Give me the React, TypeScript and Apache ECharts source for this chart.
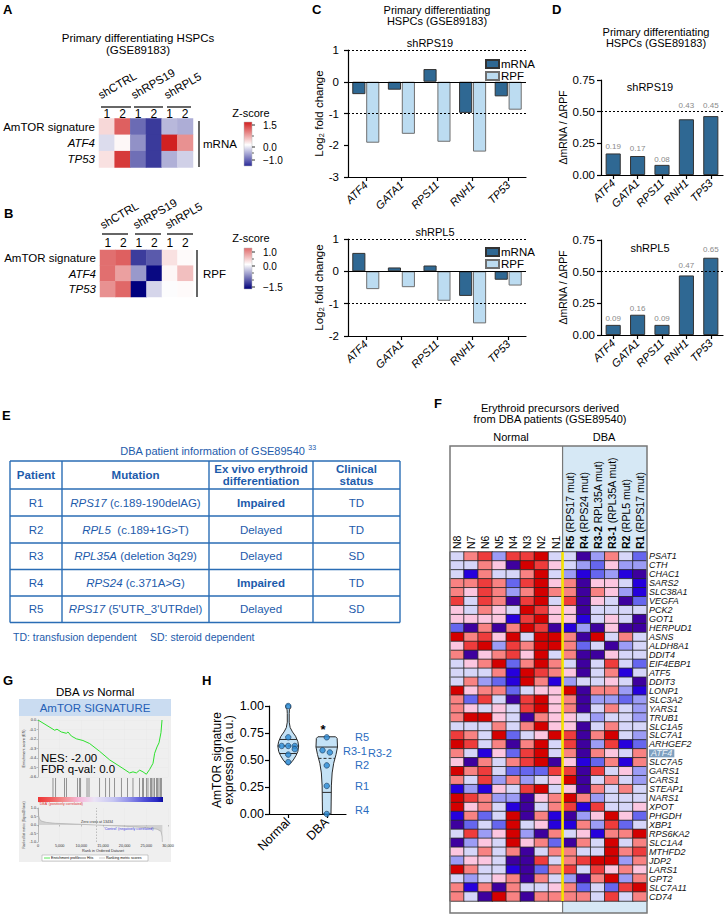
import React, { useEffect, useRef } from "react";
import * as echarts from "echarts";

const FONT = '"Liberation Sans", Arial, Helvetica, sans-serif';

/* ---------------- Panel A / B ---------------- */
const abColumns = ["shCTRL 1", "shCTRL 2", "shRPS19 1", "shRPS19 2", "shRPL5 1", "shRPL5 2"];
const abReplicates = ["1", "2", "1", "2", "1", "2"];
const abGroups = ["shCTRL", "shRPS19", "shRPL5"];
const abRows = ["AmTOR signature", "ATF4", "TP53"];
const abRowItalic = [false, true, true];
const aZscores = [
  [0.26, 1.05, -0.98, -1.3, -0.47, -0.54],
  [-0.23, 0.05, -0.73, -1.3, 1.47, 0.73],
  [0.2, 1.3, -0.95, -1.3, -0.52, -0.31],
];
const bZscores = [
  [0.95, 1.05, -1.15, -0.97, 0.2, 0.03],
  [0.95, 0.63, -0.6, -1.45, 0.06, 0.42],
  [0.73, 1.0, -1.5, -0.25, -0.02, 0.03],
];
const aScaleTicks = ["1.5", "0.0", "\u22121.0"];
const bScaleTicks = ["1.0", "0.0", "\u22121.5"];

/* ---------------- Panel C ---------------- */
const cGenes = ["ATF4", "GATA1", "RPS11", "RNH1", "TP53"];
const cRps19Mrna = [-0.39, -0.25, 0.4, -0.98, -0.46];
const cRps19Rpf = [-1.92, -1.64, -1.89, -2.2, -0.88];
const cRpl5Mrna = [0.57, 0.12, 0.18, -0.76, -0.26];
const cRpl5Rpf = [-0.55, -0.49, -0.91, -1.61, -0.44];

/* ---------------- Panel D ---------------- */
const dRps19Ratio = [0.17, 0.15, 0.08, 0.44, 0.465];
const dRps19Labels = ["0.19", "0.17", "0.08", "0.43", "0.45"];
const dRpl5Ratio = [0.08, 0.16, 0.08, 0.47, 0.61];
const dRpl5Labels = ["0.09", "0.16", "0.09", "0.47", "0.65"];
// label gaps above bars (styling)
const dRps19LabelGap = [3, 4, 1, 10, 7];
const dRpl5LabelGap = [2, 2, 2, 6, 4];

/* ---------------- Panel E ---------------- */
const eHeaders = ["Patient", "Mutation", "Ex vivo erythroid\ndifferentiation", "Clinical\nstatus"];
const ePatients = ["R1", "R2", "R3", "R4", "R5"];
const eGenes = ["RPS17", "RPL5", "RPL35A", "RPS24", "RPS17"];
const eMutations = [" (c.189-190delAG)", "  (c.189+1G>T)", " (deletion 3q29)", " (c.371A>G)", " (5'UTR_3'UTRdel)"];
const eDifferentiation = ["Impaired", "Delayed", "Delayed", "Impaired", "Delayed"];
const eStatus = ["TD", "TD", "SD", "TD", "SD"];

/* ---------------- Panel F ---------------- */
const fSamples = ["N8", "N7", "N6", "N5", "N4", "N3", "N2", "N1", "R5", "R4", "R3-2", "R3-1", "R2", "R1"];
const fSampleNotes = ["", "", "", "", "", "", "", "", "(RPS17 mut)", "(RPS24 mut)", "RPL35A mut)", "(RPL35A mut)", "(RPL5 mut)", "(RPS17 mut)"];
const fGenes = ["PSAT1", "CTH", "CHAC1", "SARS2", "SLC38A1", "VEGFA", "PCK2", "GOT1", "HERPUD1", "ASNS", "ALDH8A1", "DDIT4", "EIF4EBP1", "ATF5", "DDIT3", "LONP1", "SLC3A2", "YARS1", "TRUB1", "SLC1A5", "SLC7A1", "ARHGEF2", "ATF4", "SLC7A5", "GARS1", "CARS1", "STEAP1", "NARS1", "XPOT", "PHGDH", "XBP1", "RPS6KA2", "SLC1A4", "MTHFD2", "JDP2", "LARS1", "GPT2", "SLC7A11", "CD74"];
const fHighlightGene = "ATF4";
const fZ = [
  [-0.5, 1, 1.5, -1, 1.5, 1.5, 2, -0.5, -0.5, -2, -1, 1, -0.5, -1.5],
  [-0.5, -0.5, 1, 0.5, -2, 2, 1.5, 0.5, -0.5, -1, -1.5, 0.5, -1, -1],
  [-0.5, -1.8, 1, -0.5, -0.5, 1, 2, -0.5, -1, -1.8, -1.5, -1, -1.8, -2],
  [1, 1, 1.5, 1, -1.5, 1.5, 2, 0.5, 1, -2, 0.5, 0.5, -0.5, -1.8],
  [1, 0.5, 1.5, 1, -1, 1, 2, 1, 1, -2, 1, 0.5, -1, -1.8],
  [1.5, -0.5, 1.5, 1, -2, 1.5, 2, -0.5, 1.5, -2, 0.5, -0.5, -2, -1.5],
  [0.5, -0.5, 1, 0.5, -0.5, 2, 1.5, 0.5, 0.5, -2, -0.5, -0.5, -0.5, -0.5],
  [0.5, 0.5, 0.5, 0.5, -1.8, 1.5, 2, 0.5, 0.5, -1.8, -0.5, 0.5, -0.5, -2],
  [-1.5, -2, 1, -2, 1, 2, 1.5, -2, -1.8, -1, -2, 0.5, -2, -2],
  [2, 1, 1.5, 0.5, 2, -0.5, 2, 2, 1, -2, 2, -0.5, 1, -0.5],
  [0.5, 1.5, 2, -1, 1.5, 1, 2, 2, 1, -1.5, -0.5, -2, -1, -0.5],
  [1, -2, 0.5, 1, 1.5, 0.5, 2, -0.5, 1, -2, -2, 0.5, -0.5, -0.5],
  [-0.5, 0.5, 1, 2, -1.5, 1, 2, 1, -0.5, -2, -0.5, 1.5, -0.5, -1.5],
  [-0.5, -0.5, -0.5, 1, -1.8, 2, 1.5, 1, 0.5, -2, -0.5, 1, -1.8, -0.5],
  [-0.5, 1, -1, -1.5, -1.8, 2, 1, -1.8, -1, -0.5, -0.5, 0.5, -0.5, -2],
  [2, 0.5, 1, 1, -1.5, -0.5, 0.5, 0.5, 2, -2, 1, 1, -1, -1.8],
  [1, -1.5, 1.5, -0.5, -2, 1.5, 2, 0.5, 1, -2, -1, -1, -1.5, -1],
  [1, 0.5, -0.5, 0.5, -0.5, 1.5, 2, 0.5, 1, -2, -0.5, 1, -0.5, -1],
  [1, 2, 2, 0.5, -0.5, -2, 1, 0.5, 0.5, -0.5, -1, -0.5, -0.5, -1],
  [-0.5, -0.5, -0.5, 1, -0.5, 1, 2, 0.5, 0.5, -2, -0.5, 1, -0.5, -0.5],
  [1.5, 1, -0.5, 2, -1.5, -0.5, 0.5, 2, 1.5, -2, 1, 2, -0.5, -1],
  [2, 1.5, -0.5, 1, -2, 1, 2, -0.5, 1.5, -2, -1, 1.5, -1.8, -1.5],
  [1, -0.5, -1.8, 0.5, -1.5, 1.5, 2, -0.5, 1, -2, 1, 0.5, -0.5, 1],
  [0.5, -2, 1, -0.5, 1, 1.5, 2, -2, 0.5, -1.8, -1.5, 1, -1.8, 1],
  [2, 1, 1.5, -0.5, -1.5, -1.5, -1.5, 1.5, 1.5, -2, 1.5, -0.5, 0.5, -1],
  [1, -0.5, 1.5, -1, 1, -1, -0.5, 0.5, 2, -2, -0.5, 1, -0.5, -1],
  [-1.8, -1, -1.8, 0.5, -0.5, 1.5, 2, -0.5, 0.5, -2, 1, -0.5, 1, -0.5],
  [2, 1.5, 1, -1, -1, -2, 0.5, 1, 2, 1, -1, -0.5, -0.5, -0.5],
  [2, 0.5, 1, -0.5, -1.8, -2, -0.5, 1, 1.5, -1.8, 1.5, -0.5, -0.5, 0.5],
  [-1.8, 1, -1.5, -0.5, 2, -2, 1, -1.8, -2, -1, 0.5, 2, 0.5, -1.5],
  [-2, -1.5, -0.5, -1.5, 2, -0.5, 0.5, -1.8, -1.8, 1, -1, 1.5, -1.5, -0.5],
  [-0.5, 1.5, -1, 0.5, 2, -1, -2, 1, -0.5, 0.5, -1.8, 1, 1, 2],
  [-2, -1, 0.5, -0.5, 2, 0.5, 1, -1.5, -2, 1, -0.5, 2, -0.5, 1],
  [0.5, -0.5, 1, -0.5, 1, -2, -0.5, 1, 1, -0.5, -0.5, 2, 1, 1.5],
  [-1, 0.5, 0.5, -0.5, -2, -2, 1.5, -0.5, 1, 1.5, 2, 2, -1, 1],
  [2, 1, -0.5, -0.5, -1.8, -2, -1.5, 1, 1.5, -0.5, 1.5, 0.5, 1, 0.5],
  [-0.5, -1, -0.5, 0.5, 1, -2, 1, -0.5, -1, -2, 1, 2, -1, 1],
  [1, -1.8, 1, -2, 1, -0.5, -0.5, 0.5, 1, -1.5, -0.5, -1.5, 1.5, 2],
  [1, -0.5, -2, 2, 1, -2, 1, 1, 1, 1, -0.5, 1.5, -0.5, 1],
];

/* ---------------- Panel G ---------------- */
const gEsRank = [0, 3460, 3850, 4380, 5380, 6540, 6920, 7700, 8850, 10380, 11920, 14230, 16540, 19600, 21150, 21920, 22700, 23460, 24230, 25000, 25770, 26540, 26920, 27460, 27920, 28380, 28620];
const gEsScore = [0, -0.097, -0.108, -0.097, -0.126, -0.14, -0.126, -0.169, -0.198, -0.216, -0.248, -0.33, -0.42, -0.51, -0.557, -0.546, -0.557, -0.528, -0.546, -0.571, -0.52, -0.456, -0.35, -0.284, -0.24, -0.133, 0];
const gHits = [3460, 4080, 6150, 6540, 9080, 9620, 9850, 11310, 11770, 14230, 15620, 16540, 17690, 19230, 20620, 21920, 23460, 24080, 24380, 25000, 25380, 25920, 26230, 26540, 26920, 27310, 27620, 27920, 28230, 28460];
const gMetricRank = [0, 150, 400, 900, 2000, 4000, 7000, 10000, 13434, 17000, 21000, 25000, 27500, 28400, 28650, 28700];
const gMetricValue = [1.0, 0.55, 0.32, 0.22, 0.15, 0.1, 0.07, 0.04, 0, -0.04, -0.09, -0.16, -0.25, -0.38, -0.7, -1.0];
const gZeroCross = 13434;
const gNes = "NES: -2.00";
const gFdr = "FDR q-val: 0.0";

/* ---------------- Panel H ---------------- */
const hGroups = ["Normal", "DBA"];
const hCenters = [0.5, 1.5];
const hNormalPoints = [[0.5, 1.0], [0.5, 0.71], [0.33, 0.63], [0.5, 0.63], [0.67, 0.63], [0.67, 0.6], [0.5, 0.55], [0.5, 0.48]];
const hDbaPoints = [[1.5, 0.71], [1.39, 0.59], [1.58, 0.57], [1.5, 0.45], [1.5, 0.26], [1.5, 0.0]];
const hDbaLabels = ["R5", "R3-1", "R3-2", "R2", "R1", "R4"];
// violin outlines: [value, half width (band units)]
const hNormalOutline = [[1.015, 0], [1.005, 0.06], [0.985, 0.065], [0.965, 0.03], [0.93, 0.025], [0.85, 0.025], [0.8, 0.05], [0.76, 0.11], [0.72, 0.19], [0.67, 0.25], [0.63, 0.27], [0.58, 0.25], [0.54, 0.2], [0.5, 0.13], [0.47, 0.06], [0.455, 0]];
const hDbaOutline = [[0.715, 0.23], [0.7, 0.27], [0.62, 0.28], [0.55, 0.24], [0.47, 0.18], [0.38, 0.14], [0.26, 0.12], [0.12, 0.115], [0.0, 0.11]];
const hNormalLines = [[0.69, false], [0.63, true], [0.56, false]];
const hDbaLines = [[0.62, false], [0.515, true], [0.2, false]];

/* ---------------- helpers ---------------- */
function toCells(m: number[][]) {
  const out: number[][] = [];
  m.forEach((row, r) => row.forEach((v, c) => out.push([c, r, v])));
  return out;
}
function widthAt(outline: number[][], q: number) {
  for (let i = 0; i < outline.length - 1; i++) {
    const a = outline[i], b = outline[i + 1];
    if (q <= a[0] && q >= b[0]) {
      const t = (a[0] - q) / (a[0] - b[0] || 1);
      return a[1] + (b[1] - a[1]) * t;
    }
  }
  return outline[outline.length - 1][1];
}

const axLine = { show: true, lineStyle: { color: "#000", width: 1.2 } };
const axTick = { show: true, length: 4, lineStyle: { color: "#000", width: 1.2 } };
const lbl = (size: number, extra: any = {}) => ({ fontFamily: FONT, fontSize: size, color: "#000", ...extra });

const F_GRID = { left: 450, top: 552, width: 197, height: 349 };

function buildGraphics() {
  const g: any[] = [];
  const text = (x: number, y: number, t: string, o: any = {}) => {
    const align = o.align || "center";
    const valign = o.valign || "middle";
    g.push({
      type: "text", x, y, rotation: o.rotation || 0, silent: true, z: o.z ?? 10,
      style: {
        text: t, fontFamily: FONT, fontSize: o.size || 11, fontWeight: o.weight || "normal",
        fontStyle: o.italic ? "italic" : "normal", fill: o.color || "#000",
        align, verticalAlign: valign, textAlign: align, textVerticalAlign: valign,
        rich: o.rich, lineHeight: o.lineHeight,
      },
    });
  };
  const line = (x1: number, y1: number, x2: number, y2: number, o: any = {}) =>
    g.push({ type: "line", silent: true, z: o.z ?? 10, shape: { x1, y1, x2, y2 }, style: { stroke: o.color || "#000", lineWidth: o.width || 1, lineDash: o.dash } });
  const rect = (x: number, y: number, w: number, h: number, o: any = {}) =>
    g.push({ type: "rect", silent: true, z: o.z ?? 0, shape: { x, y, width: w, height: h }, style: { fill: o.fill || "none", stroke: o.stroke || "none", lineWidth: o.width || 1 } });

  // panel letters
  const letters: [string, number, number][] = [["A", 3, 3], ["B", 4, 207], ["C", 312, 3], ["D", 552, 3], ["E", 2, 409], ["F", 434, 397], ["G", 3, 674], ["H", 202, 674]];
  letters.forEach(([t, x, y]) => text(x, y, t, { size: 13, weight: "bold", align: "left", valign: "top" }));

  // A titles
  text(138, 38, "Primary differentiating HSPCs", { size: 11.5 });
  text(138, 50, "(GSE89183)", { size: 11.5 });
  const rot = (30 * Math.PI) / 180;
  const aGroupX = [102, 135, 168];
  const aLines = [[101, 131], [134, 163], [167, 191]];
  abGroups.forEach((s, i) => text(aGroupX[i], 101, s, { size: 11.5, align: "left", valign: "bottom", rotation: rot }));
  aLines.forEach(([a, b]) => line(a, 107, b, 107, { width: 1.2 }));
  line(199, 121, 199, 167, { width: 1.2 });
  text(203, 144, "mRNA", { size: 11.5, align: "left" });
  // A colour scale
  text(251, 113, "Z-score", { size: 11 });
  g.push({ type: "rect", silent: true, z: 5, shape: { x: 244, y: 122, width: 8, height: 44 }, style: { stroke: "#bbb", lineWidth: 0.5, fill: { type: "linear", x: 0, y: 0, x2: 0, y2: 1, colorStops: [{ offset: 0, color: "#d21f1f" }, { offset: 0.52, color: "#ffffff" }, { offset: 1, color: "#2a2a98" }] } } });
  [125, 147, 160].forEach((y, i) => { text(263, y, aScaleTicks[i], { size: 10, align: "left" }); line(252, y, 255, y, { width: 0.8 }); });
  [136, 153].forEach((y) => line(252, y, 254, y, { width: 0.6 }));

  // B
  const bGroupX = [104, 137, 169];
  const bLines = [[102, 128], [135, 161], [167, 193]];
  abGroups.forEach((s, i) => text(bGroupX[i], 231, s, { size: 11.5, align: "left", valign: "bottom", rotation: rot }));
  bLines.forEach(([a, b]) => line(a, 234, b, 234, { width: 1.2 }));
  line(197, 250, 197, 297, { width: 1.2 });
  text(203, 274, "RPF", { size: 11.5, align: "left" });
  text(251, 238, "Z-score", { size: 11 });
  g.push({ type: "rect", silent: true, z: 5, shape: { x: 244, y: 248, width: 8, height: 41 }, style: { stroke: "#bbb", lineWidth: 0.5, fill: { type: "linear", x: 0, y: 0, x2: 0, y2: 1, colorStops: [{ offset: 0, color: "#e06a6a" }, { offset: 0.4, color: "#ffffff" }, { offset: 1, color: "#00007a" }] } } });
  [252, 266, 287].forEach((y, i) => { text(263, y, bScaleTicks[i], { size: 10, align: "left" }); line(252, y, 255, y, { width: 0.8 }); });
  [259, 273, 280].forEach((y) => line(252, y, 254, y, { width: 0.6 }));

  // C titles
  text(437, 10, "Primary differentiating", { size: 11 });
  text(437, 21, "HSPCs (GSE89183)", { size: 11 });
  text(430, 43, "shRPS19", { size: 11 });
  text(435, 232, "shRPL5", { size: 11 });

  // D titles
  text(656, 32, "Primary differentiating", { size: 11 });
  text(656, 43, "HSPCs (GSE89183)", { size: 11 });
  text(650, 87, "shRPS19", { size: 11 });
  text(650, 248, "shRPL5", { size: 11 });

  // E table
  const blue = "#1d5bab";
  const tBlue = "#2a6db5";
  text(218, 451, "{t|DBA patient information of GSE89540 }{s|33}", { rich: { t: { fontSize: 11, fontFamily: FONT, fill: blue, color: blue }, s: { fontSize: 7, fontFamily: FONT, fill: blue, color: blue, padding: [0, 0, 7, 0] } } });
  const colX = [10, 62, 209, 313, 400];
  const rowY = [461, 489, 516, 543, 569.5, 596, 622.5];
  rowY.forEach((y) => line(colX[0], y, colX[4], y, { color: tBlue, width: 1.4 }));
  colX.forEach((x) => line(x, rowY[0], x, rowY[rowY.length - 1], { color: tBlue, width: 1.4 }));
  const colC = colX.slice(0, 4).map((x, i) => (x + colX[i + 1]) / 2);
  eHeaders.forEach((h, i) => text(colC[i], 475, h, { size: 11.5, weight: "bold", color: blue, lineHeight: 12.5 }));
  ePatients.forEach((p, r) => {
    const y = (rowY[r + 1] + rowY[r + 2]) / 2;
    text(colC[0], y, p, { size: 11.5, color: blue });
    text(colC[1], y, "{i|" + eGenes[r] + "}{n|" + eMutations[r] + "}", { size: 11.5, color: blue, rich: { i: { fontStyle: "italic", fontSize: 11.5, fontFamily: FONT, fill: blue, color: blue }, n: { fontSize: 11.5, fontFamily: FONT, fill: blue, color: blue } } });
    text(colC[2], y, eDifferentiation[r], { size: 11.5, color: blue, weight: eDifferentiation[r] === "Impaired" ? "bold" : "normal" });
    text(colC[3], y, eStatus[r], { size: 11.5, color: blue });
  });
  text(13, 637, "TD: transfusion dependent", { size: 10.5, color: blue, align: "left" });
  text(150, 637, "SD: steroid dependent", { size: 10.5, color: blue, align: "left" });

  // F
  text(550, 408, "Erythroid precursors derived", { size: 11 });
  text(550, 419, "from DBA patients (GSE89540)", { size: 11 });
  text(511, 437, "Normal", { size: 11 });
  text(604, 437, "DBA", { size: 11 });
  const { left: fLeft, top: fTop, width: fW, height: fH } = F_GRID;
  const cellW = fW / fSamples.length;
  const split = fLeft + cellW * 8;
  rect(split, 446, fLeft + fW - split, 467, { fill: "#d6e8f5", z: 0 });
  line(split, 446, split, 913, { color: "#777", width: 1.2, z: 1 });
  rect(fLeft, 446, fW, 467, { stroke: "#777", width: 1.5, z: 10 });
  line(split, fTop, split, fTop + fH, { color: "#f4e400", width: 2.6, z: 12 });
  // sample labels (read bottom-to-top, bold patient code)
  fSamples.forEach((s, i) => {
    const x = fLeft + cellW * (i + 0.5);
    const t = fSampleNotes[i] ? "{b|" + s + "} " + fSampleNotes[i] : s;
    text(x, fTop - 3, t, {
      size: 10.5, align: "left", valign: "middle", rotation: Math.PI / 2,
      rich: { b: { fontWeight: "bold", fontSize: 10.5, fontFamily: FONT, fill: "#000" } },
    });
  });

  // G
  text(95, 692, "{n|DBA }{i|vs}{n| Normal}", { rich: { n: { fontSize: 11.5, fontFamily: FONT, fill: "#000" }, i: { fontSize: 11.5, fontFamily: FONT, fontStyle: "italic", fill: "#000" } } });
  rect(19, 699, 152, 17, { fill: "#cadcf1", z: 0 });
  text(95, 708, "AmTOR SIGNATURE", { size: 11.5, color: "#2660b6" });
  rect(19, 716, 152, 146, { fill: "#efefef", z: 0 });
  text(41, 758, gNes, { size: 11.5, align: "left", z: 15 });
  text(41, 769, gFdr, { size: 11.5, align: "left", z: 15 });
  g.push({ type: "rect", silent: true, z: 5, shape: { x: 38, y: 797, width: 125, height: 5 }, style: { fill: { type: "linear", x: 0, y: 0, x2: 1, y2: 0, colorStops: [{ offset: 0, color: "#ee3535" }, { offset: 0.1, color: "#f05a5a" }, { offset: 0.2, color: "#f28a8a" }, { offset: 0.33, color: "#f6b8da" }, { offset: 0.45, color: "#ebe4f6" }, { offset: 0.6, color: "#c6c6f2" }, { offset: 0.72, color: "#9494ea" }, { offset: 0.85, color: "#5050d8" }, { offset: 0.95, color: "#2a2ac4" }, { offset: 1, color: "#0c0ca0" }] } } });
  text(39, 804, "'DBA' (positively correlated)", { size: 3.6, color: "#e03030", align: "left" });
  text(97, 822, "Zero cross at 13434", { size: 3.6, color: "#333" });
  text(104, 829, "'Control' (negatively correlated)", { size: 3.6, color: "#4040e0", align: "left" });
  rect(42, 855, 106, 6, { fill: "#fff", stroke: "#999", width: 0.5, z: 5 });
  line(44, 858, 50, 858, { color: "#2de02d", width: 0.8, z: 11 });
  text(51, 858, "Enrichment profile", { size: 3.6, align: "left" });
  line(80, 858, 86, 858, { color: "#555", width: 0.8, z: 11 });
  text(87, 858, "Hits", { size: 3.6, align: "left" });
  line(99, 858, 105, 858, { color: "#bbb", width: 0.8, z: 11 });
  text(106, 858, "Ranking metric scores", { size: 3.6, align: "left" });

  // H
  text(323, 729, "*", { size: 13, weight: "bold" });
  const hLabelPos: [number, number][] = [[355, 737], [343, 751], [368, 753], [355, 765], [355, 786], [355, 810]];
  hDbaLabels.forEach((t, i) => text(hLabelPos[i][0], hLabelPos[i][1], t, { size: 11, color: "#2a6cc0", align: "left" }));
  return g;
}

function buildOption() {
  const grids = [
    { left: 99, top: 118.5, width: 94, height: 49 }, // 0 A
    { left: 100, top: 250, width: 93, height: 47 }, // 1 B
    { left: 348, top: 50, width: 178, height: 127 }, // 2 C top
    { left: 348, top: 239, width: 178, height: 97 }, // 3 C bottom
    { left: 601, top: 80, width: 122, height: 95 }, // 4 D top
    { left: 601, top: 240, width: 122, height: 95 }, // 5 D bottom
    { ...F_GRID }, // 6 F
    { left: 38, top: 720, width: 130, height: 57, show: true, backgroundColor: "#fff", borderColor: "#bbb", borderWidth: 0.5 }, // 7 G ES
    { left: 38, top: 778, width: 130, height: 19, show: true, backgroundColor: "#fff", borderColor: "#bbb", borderWidth: 0.5 }, // 8 G hits
    { left: 38, top: 808, width: 130, height: 34, show: true, backgroundColor: "#fff", borderColor: "#bbb", borderWidth: 0.5 }, // 9 G metric
    { left: 269, top: 706, width: 77, height: 108 }, // 10 H
  ];

  const hmX = (gi: number) => ({
    type: "category", gridIndex: gi, data: abColumns, position: "top",
    axisLine: { show: false }, axisTick: { show: false }, splitLine: { show: false },
    axisLabel: lbl(12, { formatter: (_v: string, i: number) => abReplicates[i], margin: gi === 0 ? -1 : 1 }),
  });
  const hmY = (gi: number) => ({
    type: "category", gridIndex: gi, inverse: true,
    data: abRows.map((r, i) => (abRowItalic[i] ? { value: r, textStyle: { fontStyle: "italic" } } : r)),
    axisLine: { show: false }, axisTick: { show: false }, splitLine: { show: false },
    axisLabel: lbl(11.5, { margin: 4 }),
  });
  const geneX = (gi: number) => ({
    type: "category", gridIndex: gi, data: cGenes,
    axisLine: { ...axLine, onZero: false }, axisTick: { ...axTick, alignWithLabel: true },
    axisLabel: lbl(11, { rotate: 45, fontStyle: "italic", margin: 6, interval: 0 }),
  });
  const cY = (gi: number, min: number) => ({
    type: "value", gridIndex: gi, min, max: 1, interval: 1,
    axisLine: axLine, axisTick: axTick, splitLine: { show: false },
    axisLabel: lbl(11.5, { margin: 9 }),
    name: "Log\u2082 fold change", nameLocation: "middle", nameRotate: 90, nameGap: 21,
    nameTextStyle: lbl(11.5),
  });
  const dY = (gi: number) => ({
    type: "value", gridIndex: gi, min: 0, max: 0.75, interval: 0.25,
    axisLine: axLine, axisTick: axTick, splitLine: { show: false },
    axisLabel: lbl(11.5, { margin: 6, formatter: (v: number) => v.toFixed(2) }),
    name: "\u0394mRNA / \u0394RPF", nameLocation: "middle", nameRotate: 90, nameGap: 33,
    nameTextStyle: lbl(10.5),
  });

  const dotted = { color: "#000", width: 1, type: [2, 2] };
  const cMark = {
    silent: true, symbol: ["none", "none"], label: { show: false },
    lineStyle: dotted,
    data: [
      { yAxis: 1 },
      { yAxis: -1 },
      { yAxis: 0, lineStyle: { type: "solid", width: 1.2, color: "#000" } },
    ],
  };
  const mrnaStyle = { color: "#2f6893", borderColor: "#333", borderWidth: 1 };
  const rpfStyle = { color: "#bcdcf1", borderColor: "#6f6f6f", borderWidth: 1 };

  const tiny = (extra: any = {}) => ({ fontFamily: FONT, fontSize: 3.8, color: "#333", ...extra });
  const gX = (gi: number, showLabels: boolean) => ({
    type: "value", gridIndex: gi, min: 0, max: 30000, interval: 5000,
    axisLine: { show: false }, axisTick: { show: showLabels, length: 1.5, lineStyle: { color: "#888", width: 0.5 } },
    splitLine: { show: gi !== 8, lineStyle: { color: "#e8e8e8", width: 0.5 } },
    axisLabel: showLabels ? tiny({ margin: 2, formatter: (v: number) => v.toLocaleString("en-US") }) : { show: false },
    name: showLabels ? "Rank in Ordered Dataset" : "", nameLocation: "middle", nameGap: 7, nameTextStyle: tiny(),
  });
  const dBarData = (vals: number[], gaps: number[]) =>
    vals.map((v, i) => ({ value: v, label: { distance: gaps[i] } }));
  const dLabel = (labels: string[]) => ({
    show: true, position: "top", color: "#8a8a8a", fontSize: 8, fontFamily: FONT,
    formatter: (p: any) => labels[p.dataIndex],
  });

  const series: any[] = [
    { type: "heatmap", xAxisIndex: 0, yAxisIndex: 0, data: toCells(aZscores), emphasis: { disabled: true } },
    { type: "heatmap", xAxisIndex: 1, yAxisIndex: 1, data: toCells(bZscores), emphasis: { disabled: true } },
    { name: "mRNA", type: "bar", xAxisIndex: 2, yAxisIndex: 2, data: cRps19Mrna, itemStyle: mrnaStyle, barGap: "6%", barCategoryGap: "24%", markLine: cMark },
    { name: "RPF", type: "bar", xAxisIndex: 2, yAxisIndex: 2, data: cRps19Rpf, itemStyle: rpfStyle, barGap: "6%", barCategoryGap: "24%" },
    { name: "mRNA", type: "bar", xAxisIndex: 3, yAxisIndex: 3, data: cRpl5Mrna, itemStyle: mrnaStyle, barGap: "6%", barCategoryGap: "24%", markLine: cMark },
    { name: "RPF", type: "bar", xAxisIndex: 3, yAxisIndex: 3, data: cRpl5Rpf, itemStyle: rpfStyle, barGap: "6%", barCategoryGap: "24%" },
    {
      type: "bar", xAxisIndex: 4, yAxisIndex: 4, data: dBarData(dRps19Ratio, dRps19LabelGap), itemStyle: mrnaStyle, barCategoryGap: "38%",
      label: dLabel(dRps19Labels),
      markLine: { silent: true, symbol: ["none", "none"], label: { show: false }, lineStyle: dotted, data: [{ yAxis: 0.5 }] },
    },
    {
      type: "bar", xAxisIndex: 5, yAxisIndex: 5, data: dBarData(dRpl5Ratio, dRpl5LabelGap), itemStyle: mrnaStyle, barCategoryGap: "38%",
      label: dLabel(dRpl5Labels),
      markLine: { silent: true, symbol: ["none", "none"], label: { show: false }, lineStyle: dotted, data: [{ yAxis: 0.5 }] },
    },
    { type: "heatmap", xAxisIndex: 6, yAxisIndex: 6, data: toCells(fZ), itemStyle: { borderColor: "#262626", borderWidth: 0.8 }, emphasis: { disabled: true } },
    { type: "line", xAxisIndex: 7, yAxisIndex: 7, data: gEsRank.map((r, i) => [r, gEsScore[i]]), showSymbol: false, lineStyle: { color: "#2de02d", width: 1 } },
    { type: "scatter", xAxisIndex: 8, yAxisIndex: 8, data: gHits.map((r) => [r, 0.5]), symbol: "rect", symbolSize: [0.7, 19], itemStyle: { color: "#4a4a4a" } },
    {
      type: "line", xAxisIndex: 9, yAxisIndex: 9, data: gMetricRank.map((r, i) => [r, gMetricValue[i]]), showSymbol: false,
      lineStyle: { color: "#9a9a9a", width: 0.5 }, areaStyle: { color: "#c4c4c4", origin: 0 },
      markLine: { silent: true, symbol: ["none", "none"], label: { show: false }, lineStyle: { color: "#888", width: 0.5, type: [1.5, 1.5] }, data: [{ xAxis: gZeroCross }] },
    },
    {
      type: "custom", xAxisIndex: 11, yAxisIndex: 10, clip: false,
      data: hCenters.map((c) => [c, 0.5]),
      renderItem: (params: any, api: any) => {
        const idx = params.dataIndex;
        const outline = idx === 0 ? hNormalOutline : hDbaOutline;
        const lines: any[] = idx === 0 ? hNormalLines : hDbaLines;
        const cx = hCenters[idx];
        const right = outline.map(([v, w]) => api.coord([cx + w, v]));
        const left = outline.slice().reverse().map(([v, w]) => api.coord([cx - w, v]));
        const children: any[] = [
          { type: "polygon", shape: { points: right.concat(left) }, style: { fill: "#c4e2f6", stroke: "#2b2b2b", lineWidth: 1 } },
        ];
        lines.forEach(([q, dashed]: any) => {
          const w = widthAt(outline, q);
          const p1 = api.coord([cx - w, q]);
          const p2 = api.coord([cx + w, q]);
          children.push({ type: "line", shape: { x1: p1[0], y1: p1[1], x2: p2[0], y2: p2[1] }, style: { stroke: "#2b2b2b", lineWidth: 1, lineDash: dashed ? [3, 2] : undefined } });
        });
        return { type: "group", children };
      },
    },
    {
      type: "scatter", xAxisIndex: 11, yAxisIndex: 10, data: hNormalPoints.concat(hDbaPoints), symbolSize: 5.5, z: 5,
      itemStyle: { color: "#2b8bd6", borderColor: "#1d3c5c", borderWidth: 0.8 },
    },
  ];

  const legendBase = {
    data: ["mRNA", "RPF"], left: 480, orient: "vertical", icon: "rect", itemWidth: 13, itemHeight: 8, itemGap: 0,
    textStyle: lbl(11.5, { lineHeight: 11, padding: [0, 0, 0, -3] }), selectedMode: false,
  };

  return {
    animation: false,
    backgroundColor: "#fff",
    textStyle: { fontFamily: FONT },
    grid: grids,
    legend: [
      { ...legendBase, top: 53 },
      { ...legendBase, top: 241 },
    ],
    visualMap: [
      { type: "continuous", seriesIndex: 0, dimension: 2, min: -1.5, max: 1.5, show: false, inRange: { color: ["#1c1c8c", "#ffffff", "#d01c1c"] } },
      { type: "continuous", seriesIndex: 1, dimension: 2, min: -1.5, max: 1.5, show: false, inRange: { color: ["#00007e", "#ffffff", "#d01c1c"] } },
      {
        type: "piecewise", seriesIndex: 8, dimension: 2, show: false,
        pieces: [
          { value: -2, color: "#3e009e" },
          { value: -1.8, color: "#2600dc" },
          { value: -1.5, color: "#6666ee" },
          { value: -1, color: "#9c9cf5" },
          { value: -0.5, color: "#d6d6f9" },
          { value: 0.5, color: "#fcc6e0" },
          { value: 1, color: "#f88282" },
          { value: 1.5, color: "#ee3c3c" },
          { value: 2, color: "#d40000" },
        ],
      },
    ],
    xAxis: [
      hmX(0),
      hmX(1),
      geneX(2),
      geneX(3),
      geneX(4),
      geneX(5),
      {
        type: "category", gridIndex: 6, position: "top", data: fSamples,
        axisLine: { show: false }, axisTick: { show: false }, splitLine: { show: false },
        axisLabel: { show: false },
      },
      gX(7, false),
      gX(8, false),
      gX(9, true),
      {
        type: "category", gridIndex: 10, data: hGroups,
        axisLine: axLine, axisTick: { ...axTick, alignWithLabel: true },
        axisLabel: lbl(12.5, { rotate: 45, margin: 6 }),
      },
      { type: "value", gridIndex: 10, min: 0, max: 2, show: false },
    ],
    yAxis: [
      hmY(0),
      hmY(1),
      cY(2, -3),
      cY(3, -2),
      dY(4),
      dY(5),
      {
        type: "category", gridIndex: 6, position: "right", inverse: true,
        data: fGenes.map((gname) => (gname === fHighlightGene ? { value: gname, textStyle: { backgroundColor: "#7d9fbf", color: "#eef4fa", padding: [0, 2, 0, 2] } } : gname)),
        axisLine: { show: false }, axisTick: { show: false }, splitLine: { show: false },
        axisLabel: lbl(9, { fontStyle: "italic", margin: 2, interval: 0, color: "#111", lineHeight: 8 }),
      },
      {
        type: "value", gridIndex: 7, min: -0.6, max: 0, interval: 0.1,
        axisLine: { show: true, lineStyle: { color: "#888", width: 0.5 } }, axisTick: { show: true, length: 1.5, lineStyle: { color: "#888", width: 0.5 } },
        splitLine: { show: true, lineStyle: { color: "#e8e8e8", width: 0.5 } },
        axisLabel: tiny({ margin: 2, formatter: (v: number) => v.toFixed(1) }),
        name: "Enrichment score (ES)", nameLocation: "middle", nameRotate: 90, nameGap: 11, nameTextStyle: tiny(),
      },
      { type: "value", gridIndex: 8, min: 0, max: 1, show: false },
      {
        type: "value", gridIndex: 9, min: -1, max: 1, interval: 0.5,
        axisLine: { show: true, lineStyle: { color: "#888", width: 0.5 } }, axisTick: { show: true, length: 1.5, lineStyle: { color: "#888", width: 0.5 } },
        splitLine: { show: false },
        axisLabel: tiny({ margin: 2, formatter: (v: number) => v.toFixed(1) }),
        name: "Ranked list metric (Signal2Noise)", nameLocation: "middle", nameRotate: 90, nameGap: 11, nameTextStyle: tiny({ fontSize: 3.2 }),
      },
      {
        type: "value", gridIndex: 10, min: 0, max: 1, interval: 0.25,
        axisLine: axLine, axisTick: axTick, splitLine: { show: false },
        axisLabel: lbl(12.5, { margin: 5, formatter: (v: number) => v.toFixed(2) }),
        name: "AmTOR signature\nexpression (a.u.)", nameLocation: "middle", nameRotate: 90, nameGap: 34,
        nameTextStyle: lbl(12, { lineHeight: 12 }),
      },
    ],
    series,
    graphic: { elements: buildGraphics() },
  };
}

export default function App() {
  const ref = useRef<HTMLDivElement>(null);
  useEffect(() => {
    if (!ref.current) return;
    const chart = echarts.init(ref.current, null, { renderer: "svg" });
    chart.setOption(buildOption() as any);
    return () => chart.dispose();
  }, []);
  return (
    <div
      ref={ref}
      style={{ position: "absolute", left: 0, top: 0, width: 726, height: 916, background: "#fff" }}
    />
  );
}
